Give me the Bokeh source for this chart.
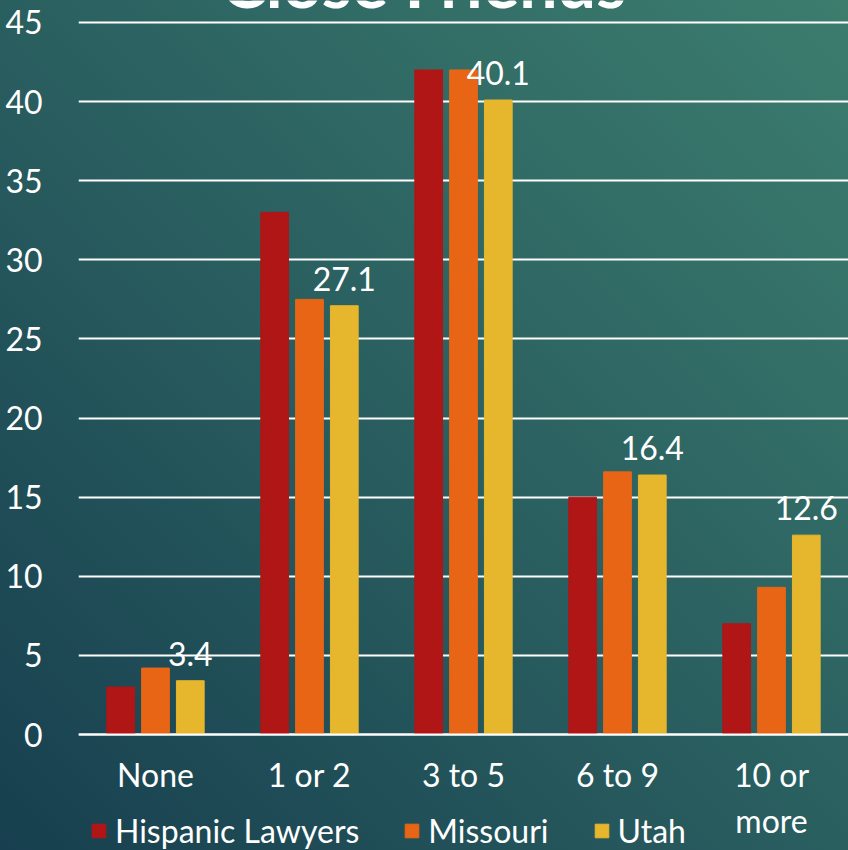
from bokeh.plotting import figure
from bokeh.models import ColumnDataSource, Legend, LegendItem, LabelSet, Label
from bokeh.transform import dodge
from bokeh.core.properties import value
from bokeh.embed import file_html
from bokeh.resources import INLINE

categories = ["None", "1 or 2", "3 to 5", "6 to 9", "10 or\nmore"]
hispanic_lawyers = [3, 33, 42, 15, 7]
missouri = [4.2, 27.5, 42, 16.6, 9.3]
utah = [3.4, 27.1, 40.1, 16.4, 12.6]
utah_labels = ["3.4", "27.1", "40.1", "16.4", "12.6"]
y_ticks = [0, 5, 10, 15, 20, 25, 30, 35, 40, 45]
title_text = "Close Friends"

FONT = "Lato"
WHITE = "#ffffff"
FS = "32px"

src = ColumnDataSource(dict(cat=categories, hl=hispanic_lawyers, mo=missouri,
                            ut=utah, lab=utah_labels))

# frame spans the full canvas height so the legend and title are not clipped
p = figure(x_range=categories, y_range=(-7.33, 46.39), width=848, height=850,
           output_backend="svg", toolbar_location=None,
           min_border_left=78, min_border_right=0, min_border_top=0,
           min_border_bottom=0)
p.styles = {"background": "linear-gradient(to top right, #173f4f 0%, #2a5f60 50%, #3c7d6e 100%)"}
p.border_fill_alpha = 0
p.background_fill_alpha = 0
p.outline_line_color = None

off = 0.226
w = 0.18
r1 = p.vbar(x=dodge("cat", -off, range=p.x_range), top="hl", width=w, source=src,
            color="#b01616")
r2 = p.vbar(x=dodge("cat", 0, range=p.x_range), top="mo", width=w, source=src,
            color="#e86515")
r3 = p.vbar(x=dodge("cat", off, range=p.x_range), top="ut", width=w, source=src,
            color="#e6b62c")

labels = LabelSet(x=dodge("cat", off, range=p.x_range), y="ut", text="lab", source=src,
                  y_offset=15, text_align="center", text_baseline="alphabetic",
                  text_color=WHITE, text_font=value(FONT), text_font_size=FS)
p.add_layout(labels)

p.add_layout(Label(x=2.24, y=47.6, text=title_text, text_align="center",
                   text_baseline="alphabetic", text_color=WHITE, text_font=FONT,
                   text_font_size="68px", text_font_style="bold"))

# grid
p.xgrid.grid_line_color = None
p.ygrid.grid_line_color = WHITE
p.ygrid.grid_line_width = 2
p.ygrid.grid_line_alpha = 1

p.yaxis.ticker = y_ticks
p.yaxis.axis_line_color = None
p.yaxis.major_tick_line_color = None
p.yaxis.minor_tick_line_color = None
p.yaxis.major_label_standoff = 30
p.yaxis.major_label_text_color = WHITE
p.yaxis.major_label_text_font = FONT
p.yaxis.major_label_text_font_size = FS

p.xaxis.fixed_location = 0
p.xaxis.axis_line_color = WHITE
p.xaxis.axis_line_width = 2
p.xaxis.major_tick_line_color = None
p.xaxis.minor_tick_line_color = None
p.xaxis.major_label_standoff = 14
p.xaxis.major_label_text_color = WHITE
p.xaxis.major_label_text_font = FONT
p.xaxis.major_label_text_font_size = FS

legend = Legend(items=[LegendItem(label="Hispanic Lawyers", renderers=[r1]),
                       LegendItem(label="Missouri", renderers=[r2]),
                       LegendItem(label="Utah", renderers=[r3])],
                orientation="horizontal", location=(12, 0),
                background_fill_alpha=0, border_line_color=None,
                label_text_color=WHITE, label_text_font=FONT,
                label_text_font_size=FS, glyph_width=17, glyph_height=17,
                label_standoff=8, spacing=44, padding=0, margin=0)
p.add_layout(legend, "center")

open("out.html", "w").write(file_html(p, INLINE))
